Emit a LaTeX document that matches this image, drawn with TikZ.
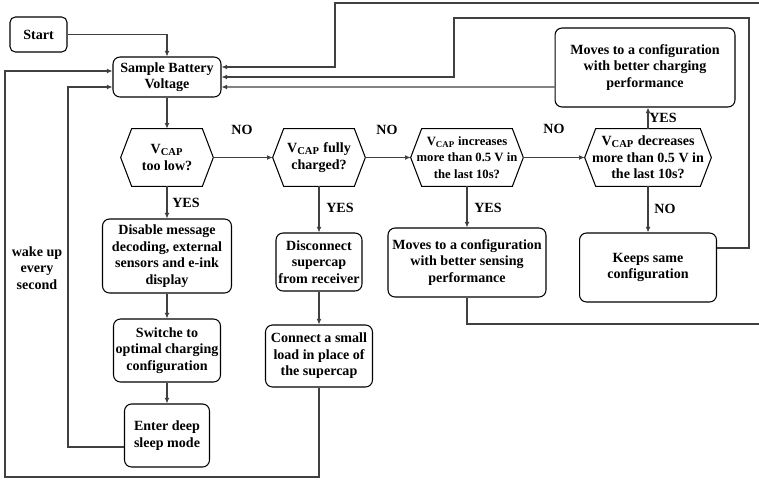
\documentclass[tikz,border=0pt]{standalone}
\usepackage{fontspec}
\setmainfont{Liberation Serif}
\usetikzlibrary{arrows.meta,calc,positioning}
\newcommand{\Vcap}{V\textsubscript{CAP}}

\begin{document}
\begin{tikzpicture}[x=0.02cm, y=-0.02cm,
  every node/.style={font=\bfseries\fontsize{8}{9.4}\selectfont},
  box/.style={draw, rounded corners=4pt, line width=0.6pt, align=center, inner sep=1pt},
  dec/.style={align=center, inner sep=0pt, minimum height=1.14cm},
  conn/.style={draw=black!75, line width=0.6pt},
  arr/.style={conn, -{Latex[length=3.2pt,width=2.8pt]}}]
  \useasboundingbox (0,0) rectangle (759,480);

  % process boxes
  \node[box, rounded corners=3pt, minimum width=1.14cm, minimum height=0.7cm] (start) at (38.5,34.5) {Start};
  \node[box, minimum width=2.16cm, minimum height=0.8cm] (sample) at (167,77) {Sample Battery\\Voltage};
  \node[box, minimum width=2.58cm, minimum height=1.48cm] (dis) at (167,256) {Disable message\\decoding, external\\sensors and e-ink\\display};
  \node[box, minimum width=2.14cm, minimum height=1.26cm] (sw) at (167,350.5) {Switche to\\optimal charging\\configuration};
  \node[box, minimum width=1.7cm, minimum height=1.26cm] (sleep) at (167,435.5) {Enter deep\\sleep mode};
  \node[box, minimum width=1.72cm, minimum height=1.16cm] (disc) at (319,262) {Disconnect\\supercap\\from receiver};
  \node[box, minimum width=2.14cm, minimum height=1.24cm] (load) at (319,356) {Connect a small\\load in place of\\the supercap};
  \node[box, minimum width=3.16cm, minimum height=1.38cm] (sens) at (467,262.5) {Moves to a configuration\\with better sensing\\performance};
  \node[box, minimum width=2.74cm, minimum height=1.38cm] (keep) at (648,267.5) {Keeps same\\configuration};
  \node[box, minimum width=3.6cm, minimum height=1.58cm] (top) at (645,67.5) {Moves to a configuration\\with better charging\\performance};

  % decisions
  \node[dec, minimum width=1.84cm] (dlow) at (167,157.5) {\Vcap\\too low?};
  \node[dec, minimum width=1.84cm] (dfull) at (319,157.5) {\Vcap{} fully\\charged?};
  \node[dec, minimum width=2.24cm, font=\bfseries\fontsize{7.2}{9.4}\selectfont] (dinc) at (467,157.5) {\Vcap{} increases\\more than 0.5 V in\\the last 10s?};
  \node[dec, minimum width=2.52cm] (ddec) at (648,157.5) {\Vcap{} decreases\\more than 0.5 V in\\the last 10s?};
  \foreach \d in {dlow,dfull,dinc,ddec}{
    \draw[line width=0.6pt] (\d.west) -- ($(\d.north west)+(11,0)$) -- ($(\d.north east)+(-11,0)$) -- (\d.east)
      -- ($(\d.south east)+(-11,0)$) -- ($(\d.south west)+(11,0)$) -- cycle;
  }

  % branch labels
  \foreach \n/\x/\y/\t in {no1/242/130/NO, no2/387/130/NO, no3/554/129/NO, no4/665/209/NO,
    yes1/186/203/YES, yes2/340/208/YES, yes3/488/208/YES, yes4/663/118/YES}{
    \node (\n) at (\x,\y) {\t};
  }
  \node[align=center] (wake) at (37,268) {wake up\\every\\second};

  % forward flow
  \draw[arr] (start.east) -| (sample.north);
  \draw[arr] (sample.south) -- (dlow.north);
  \draw[arr] (dlow.east) -- (dfull.west);
  \draw[arr] (dfull.east) -- (dinc.west);
  \draw[arr] (dinc.east) -- (ddec.west);
  \draw[arr] (ddec.north) -- (ddec.north |- top.south);
  \foreach \a/\b in {ddec/keep,dinc/sens,dfull/disc,disc/load,dlow/dis,dis/sw,sw/sleep}{
    \draw[arr] (\a.south) -- (\b.north);
  }

  % return paths
  \draw[arr] ($(sleep.west)+(0,11.5)$) -| (68,87) -- ($(sample.west)+(0,10)$);
  \draw[arr] (load.south) |- (5,477) |- ($(sample.west)+(0,-6)$);
  \draw[arr] ($(top.west)+(0,19.5)$) -- ($(sample.east)+(0,10)$);
  \draw[arr] ($(keep.east)+(0,-19.5)$) -| (749,18) -| (454,77) -- (sample.east);
  \draw[arr] (sens.south) |- (770,324) |- (335,3) |- ($(sample.east)+(0,-10)$);
\end{tikzpicture}
\end{document}
